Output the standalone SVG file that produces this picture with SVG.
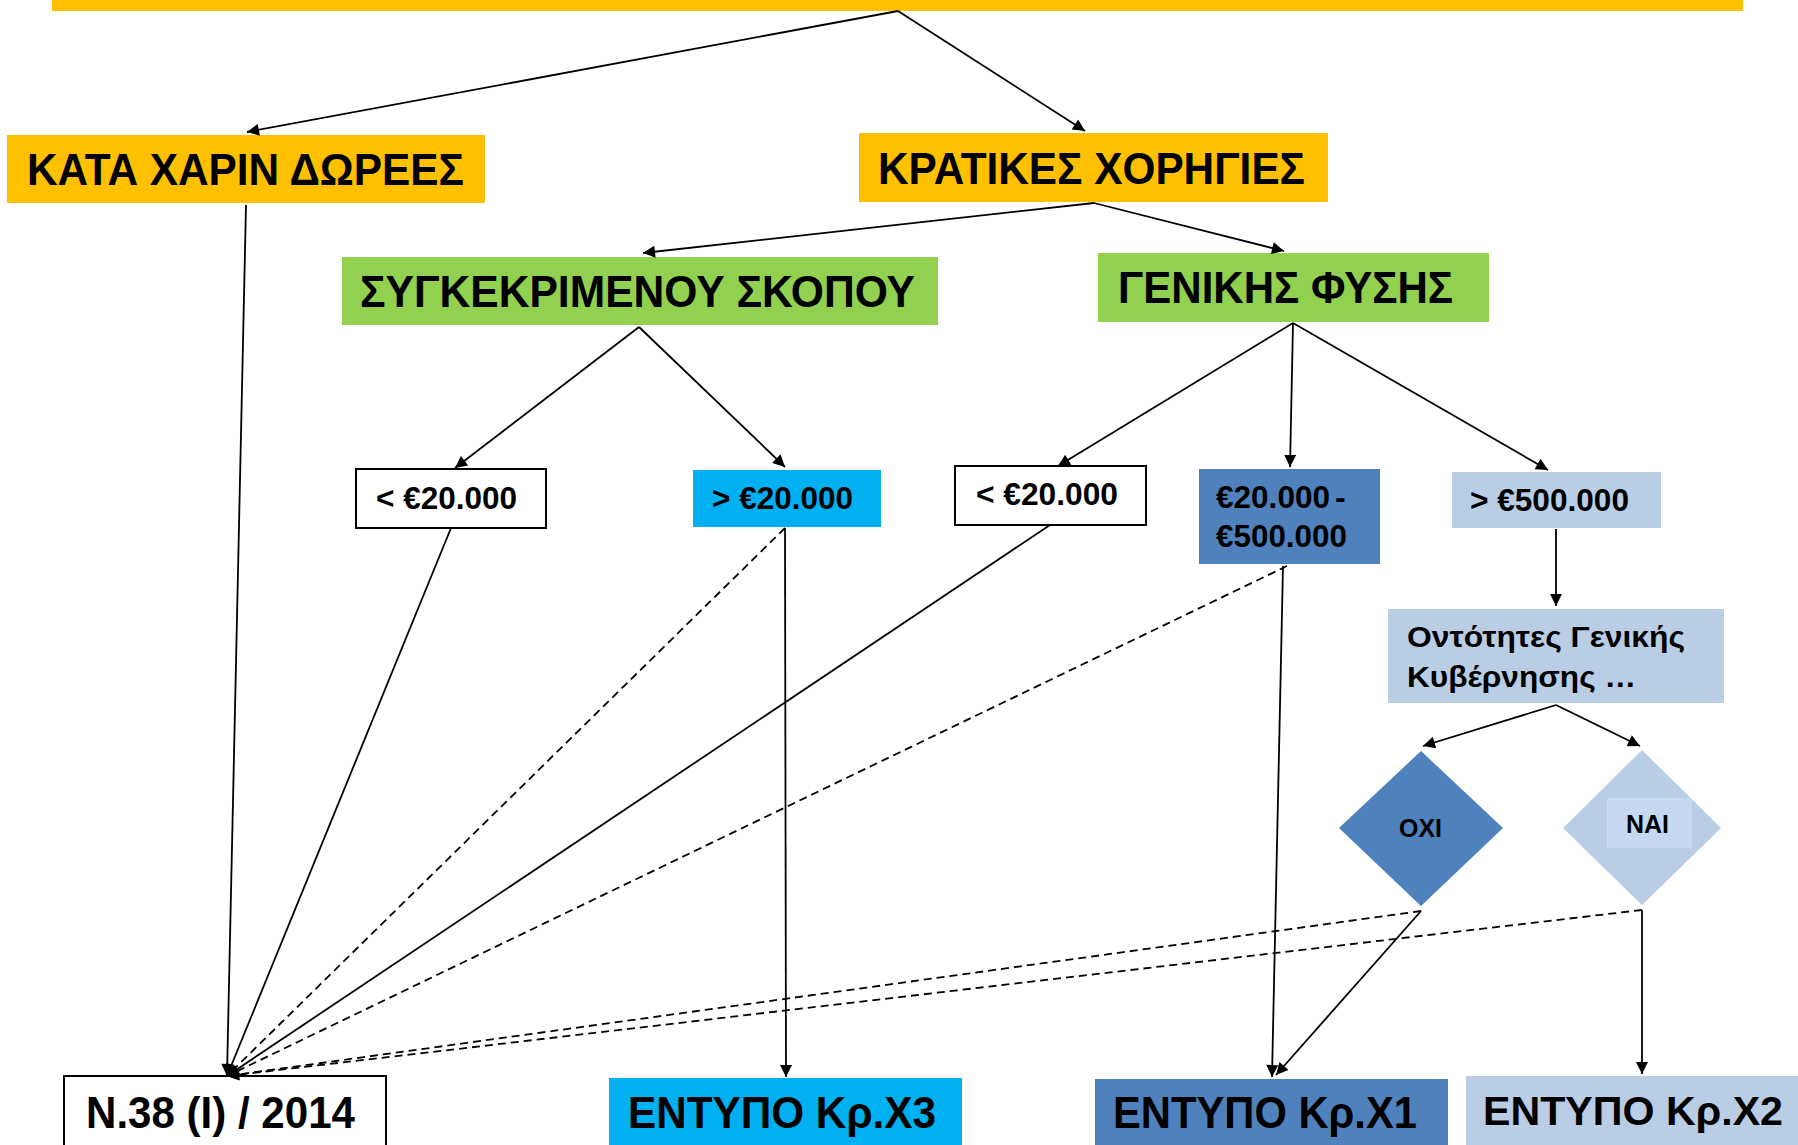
<svg xmlns="http://www.w3.org/2000/svg" width="1798" height="1145" viewBox="0 0 1798 1145">
<style>
text{font-family:"Liberation Sans",Arial,sans-serif;font-weight:bold;fill:#000}
.big{font-size:44px}
.mid{font-size:32px}
.sm{font-size:29px}
.xs{font-size:25px}
.c line{stroke:#000;stroke-width:1.8;fill:none;marker-end:url(#ah)}
.c .d{stroke-dasharray:8 5}
.org{fill:#FFC000}
.grn{fill:#92D050}
.cyn{fill:#00B0F0}
.blu{fill:#4F81BD}
.lbl{fill:#B9CDE5}
.wht{fill:#fff;stroke:#000;stroke-width:2}
</style>
<defs>
<marker id="ah" viewBox="0 0 10 10" refX="10" refY="5" markerWidth="15" markerHeight="12" markerUnits="userSpaceOnUse" orient="auto">
<path d="M0,0 L10,5 L0,10 z" fill="#000"/>
</marker>
</defs>
<rect width="1798" height="1145" fill="#fff"/>

<g id="top"><rect class="org" x="52" y="-5" width="1691" height="16"/></g>

<g id="kata"><rect class="org" x="7" y="135" width="478" height="68"/><text class="big" x="27" y="185" textLength="437" lengthAdjust="spacingAndGlyphs">ΚΑΤΑ ΧΑΡΙΝ ΔΩΡΕΕΣ</text></g>
<g id="kratikes"><rect class="org" x="859" y="133" width="469" height="69"/><text class="big" x="878" y="184" textLength="427" lengthAdjust="spacingAndGlyphs">ΚΡΑΤΙΚΕΣ ΧΟΡΗΓΙΕΣ</text></g>
<g id="sygk"><rect class="grn" x="342" y="257" width="596" height="68"/><text class="big" x="360" y="307" textLength="555" lengthAdjust="spacingAndGlyphs">ΣΥΓΚΕΚΡΙΜΕΝΟΥ ΣΚΟΠΟΥ</text></g>
<g id="genikis"><rect class="grn" x="1098" y="253" width="391" height="69"/><text class="big" x="1118" y="303" textLength="335" lengthAdjust="spacingAndGlyphs">ΓΕΝΙΚΗΣ ΦΥΣΗΣ</text></g>

<g id="lt20a"><rect class="wht" x="356" y="469" width="190" height="59"/><text class="mid" x="376" y="509" textLength="141" lengthAdjust="spacingAndGlyphs">&lt; €20.000</text></g>
<g id="gt20"><rect class="cyn" x="693" y="470" width="188" height="57"/><text class="mid" x="712" y="509" textLength="141" lengthAdjust="spacingAndGlyphs">&gt; €20.000</text></g>
<g id="lt20b"><rect class="wht" x="955" y="466" width="191" height="59"/><text class="mid" x="976" y="505" textLength="142" lengthAdjust="spacingAndGlyphs">&lt; €20.000</text></g>
<g id="range"><rect class="blu" x="1199" y="469" width="181" height="95"/><text class="mid" x="1216" y="508" textLength="114" lengthAdjust="spacingAndGlyphs">€20.000</text><text class="mid" x="1335" y="508">-</text><text class="mid" x="1216" y="547" textLength="131" lengthAdjust="spacingAndGlyphs">€500.000</text></g>
<g id="gt500"><rect class="lbl" x="1452" y="472" width="209" height="56"/><text class="mid" x="1470" y="511" textLength="159" lengthAdjust="spacingAndGlyphs">&gt; €500.000</text></g>
<g id="ontotites"><rect class="lbl" x="1388" y="609" width="336" height="94"/><text class="sm" x="1407" y="647" textLength="278" lengthAdjust="spacingAndGlyphs">Οντότητες Γενικής</text><text class="sm" x="1407" y="687" textLength="229" lengthAdjust="spacingAndGlyphs">Κυβέρνησης …</text></g>
<g id="oxi"><polygon class="blu" points="1421,751 1503,828 1421,906 1339,828"/><text class="xs" x="1399" y="837" textLength="43" lengthAdjust="spacingAndGlyphs">ΟΧΙ</text></g>
<g id="nai"><polygon class="lbl" points="1642,750 1721,828 1642,905 1563,828"/><rect x="1607" y="798" width="85" height="50" fill="#C6D9F1"/><text class="xs" x="1626" y="833" textLength="43" lengthAdjust="spacingAndGlyphs">ΝΑΙ</text></g>

<g id="n38"><rect class="wht" x="64" y="1076" width="322" height="80"/><text class="big" x="86" y="1128" textLength="269" lengthAdjust="spacingAndGlyphs">N.38 (I) / 2014</text></g>
<g id="x3"><rect class="cyn" x="609" y="1078" width="353" height="70"/><text class="big" x="628" y="1128" textLength="308" lengthAdjust="spacingAndGlyphs">ΕΝΤΥΠΟ Κρ.Χ3</text></g>
<g id="x1"><rect class="blu" x="1095" y="1079" width="353" height="70"/><text class="big" x="1113" y="1128" textLength="304" lengthAdjust="spacingAndGlyphs">ΕΝΤΥΠΟ Κρ.Χ1</text></g>
<g id="x2"><rect class="lbl" x="1466" y="1076" width="332" height="72"/><text x="1483" y="1125" font-size="41" textLength="300" lengthAdjust="spacingAndGlyphs">ΕΝΤΥΠΟ Κρ.Χ2</text></g>

<g id="connectors" class="c">
<line x1="898" y1="11" x2="247" y2="132" stroke-width="2"/>
<line x1="898" y1="11" x2="1085" y2="131"/>
<line x1="1094" y1="203" x2="643" y2="253"/>
<line x1="1094" y1="203" x2="1284" y2="251"/>
<line x1="639" y1="327" x2="455" y2="468"/>
<line x1="639" y1="327" x2="785" y2="467"/>
<line x1="1293" y1="323" x2="1058" y2="466"/>
<line x1="1293" y1="323" x2="1290" y2="467"/>
<line x1="1293" y1="323" x2="1548" y2="470"/>
<line x1="1556" y1="529" x2="1556" y2="606"/>
<line x1="1556" y1="705" x2="1423" y2="746"/>
<line x1="1556" y1="705" x2="1640" y2="746"/>
<line x1="246" y1="205" x2="227" y2="1076"/>
<line x1="451" y1="528" x2="227" y2="1076"/>
<line class="d" x1="785" y1="528" x2="227" y2="1076"/>
<line x1="785" y1="528" x2="786" y2="1077"/>
<line x1="1050" y1="525" x2="227" y2="1076"/>
<line class="d" x1="1287" y1="566" x2="227" y2="1076"/>
<line x1="1283" y1="566" x2="1272" y2="1077"/>
<line class="d" x1="1421" y1="911" x2="227" y2="1076"/>
<line x1="1421" y1="911" x2="1276" y2="1075"/>
<line class="d" x1="1642" y1="910" x2="227" y2="1076"/>
<line x1="1642" y1="910" x2="1642" y2="1074"/>
</g>
</svg>
